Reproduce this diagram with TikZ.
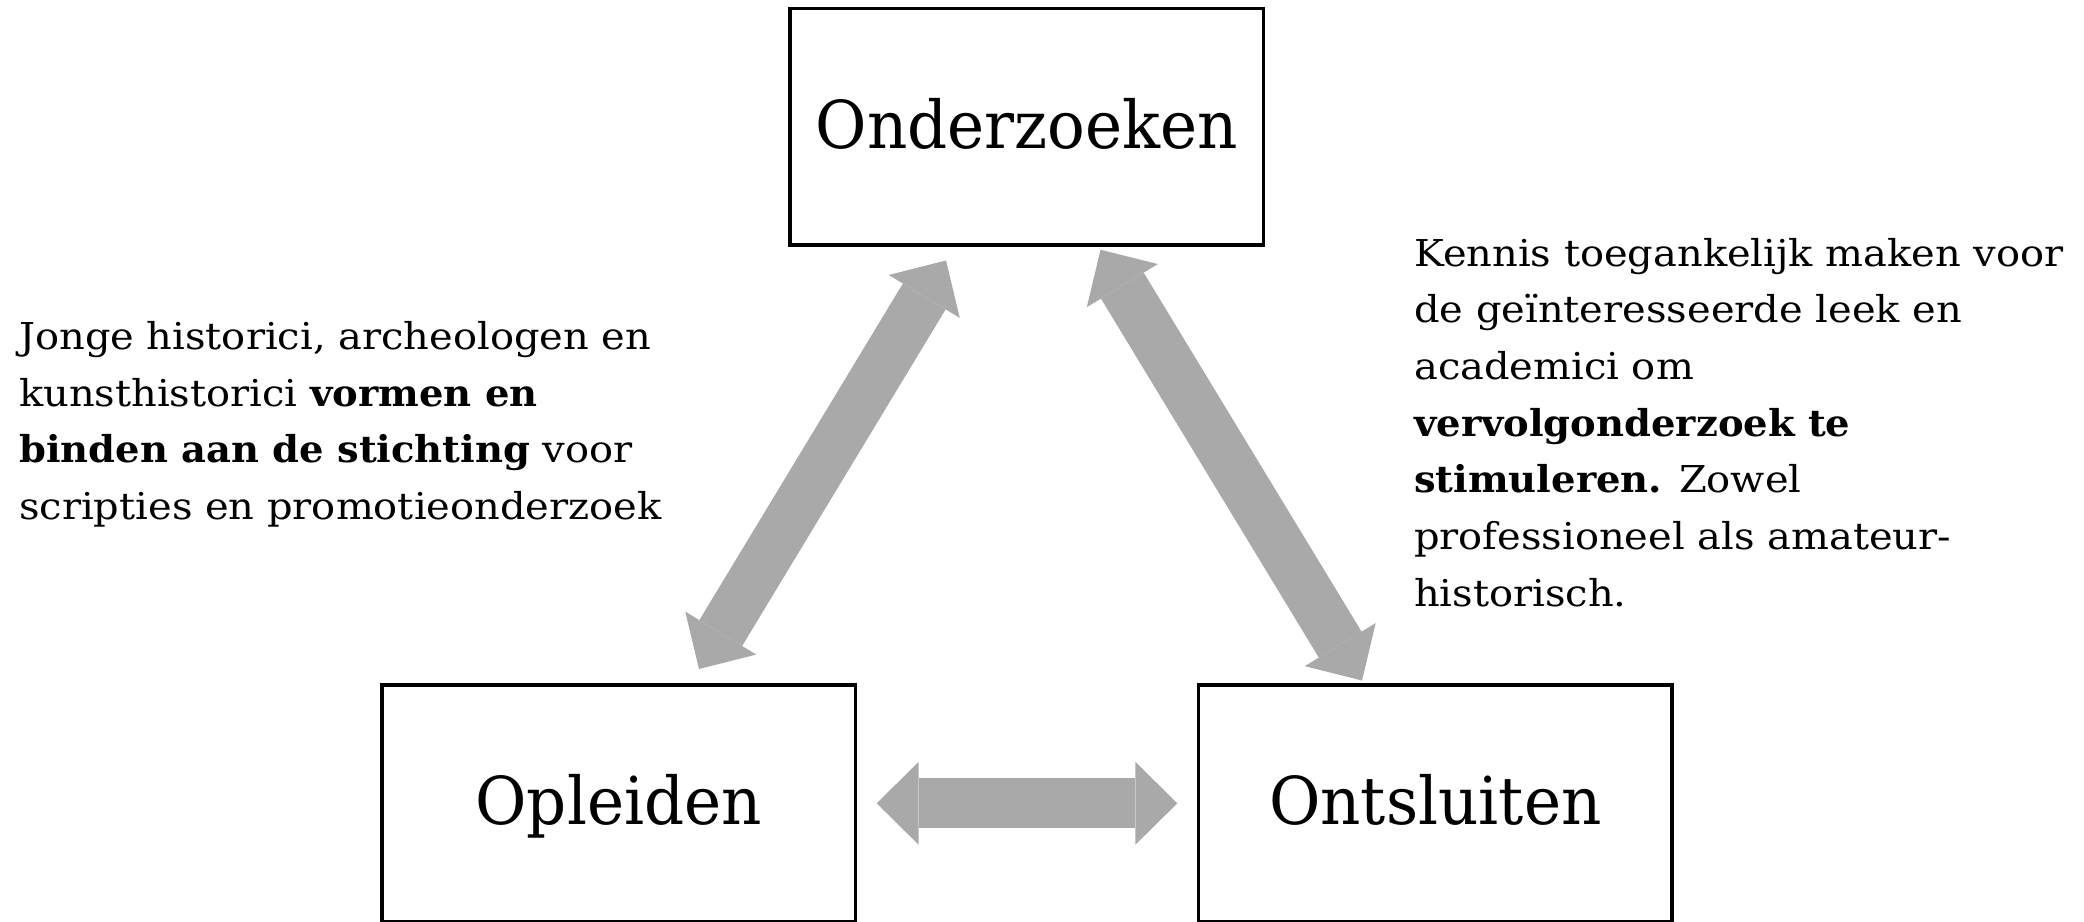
\documentclass[tikz,border=0pt]{standalone}
\usepackage{fontspec}
\setmainfont[FakeStretch=1.08,BoldFeatures={FakeStretch=1.04}]{DejaVu Serif}
\newfontfamily\boxfont[FakeStretch=0.95]{DejaVu Serif}
\usetikzlibrary{arrows.meta}
\definecolor{arrowgray}{RGB}{169,169,169}
\tikzset{
  mainbox/.style={draw=black, line width=3.6pt, inner sep=0pt, fill=white,
    minimum width=473.5pt, minimum height=236.5pt,
    font=\boxfont\fontsize{66pt}{70pt}\selectfont,
    text height=43.2pt, text depth=0pt},
  bodytxt/.style={anchor=base west, inner sep=0pt,
    font=\fontsize{37pt}{56.7pt}\selectfont},
  dblarrow/.style={draw=arrowgray, fill=arrowgray, line width=50pt,
    {Triangle[length=42pt,width=83pt,line width=0pt]}-{Triangle[length=42pt,width=83pt,line width=0pt]}}
}
\begin{document}
\begin{tikzpicture}[x=1pt,y=-1pt]
\useasboundingbox (0,0) rectangle (2084,921);
\fill[white] (0,0) rectangle (2084,921);

\node[mainbox] (onz) at (1026.8,126.7) {Onderzoeken};
\node[mainbox] (opl) at (618.7,803.2) {Opleiden};
\node[mainbox] (ont) at (1435.3,803.2) {Ontsluiten};

\coordinate (h1) at (876.7,803.3);
\coordinate (h2) at (1177.3,803.3);
\coordinate (l1) at (946,260.5);
\coordinate (l2) at (699,669);
\coordinate (r1) at (1100.5,249.7);
\coordinate (r2) at (1362,680.5);

\draw[dblarrow] (h1) -- (h2);
\draw[dblarrow] (l2) -- (l1);
\draw[dblarrow] (r1) -- (r2);

\node[bodytxt] (lt) at (19,349.5) {\parbox[t]{720pt}{\raggedright
Jonge historici, archeologen en\\
kunsthistorici \textbf{vormen en}\\
\textbf{binden aan de stichting} voor\\
scripties en promotieonderzoek}};

\node[bodytxt] (rt) at (1414,266) {\parbox[t]{700pt}{\raggedright
Kennis toegankelijk maken voor\\
de geïnteresseerde leek en\\
academici om\\
\textbf{vervolgonderzoek te}\\
\textbf{stimuleren.} Zowel\\
professioneel als amateur-\\
historisch.}};
\end{tikzpicture}
\end{document}
